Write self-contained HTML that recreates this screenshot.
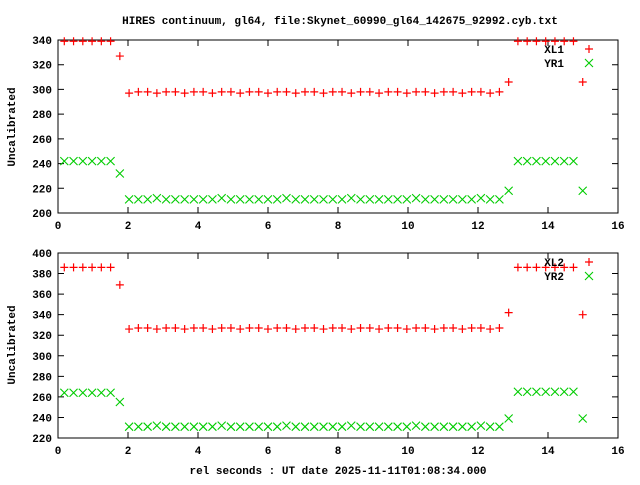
<!DOCTYPE html>
<html><head><style>
body{margin:0;background:#fff}
svg text{font-family:"Liberation Mono","DejaVu Sans Mono",monospace;font-weight:bold;font-size:11px}
</style></head><body>
<svg id="s" width="640" height="480" xmlns="http://www.w3.org/2000/svg">
<text x="340" y="24" text-anchor="middle">HIRES continuum, gl64, file:Skynet_60990_gl64_142675_92992.cyb.txt</text>
<text x="0" y="0" transform="translate(15,127) rotate(-90)" text-anchor="middle">Uncalibrated</text>
<text x="0" y="0" transform="translate(15,345) rotate(-90)" text-anchor="middle">Uncalibrated</text>
<text x="338" y="474" text-anchor="middle">rel seconds : UT date 2025-11-11T01:08:34.000</text>
</svg>
<script>
var s=document.getElementById('s'),NS='http://www.w3.org/2000/svg';
function el(t,a,txt){var e=document.createElementNS(NS,t);for(var k in a)e.setAttribute(k,a[k]);if(txt!==undefined)e.textContent=txt;s.appendChild(e);return e;}
function plus(x,y,c){el('path',{d:'M'+(x-4)+' '+y+'h8M'+x+' '+(y-4)+'v8',stroke:c,'stroke-width':1.2,fill:'none'});}
function cross(x,y,c){el('path',{d:'M'+(x-4)+' '+(y-4)+'l8 8M'+(x+4)+' '+(y-4)+'l-8 8',stroke:c,'stroke-width':1.1,fill:'none'});}
function panel(top,bot,vmin,vmax,step,R,G,lab1,lab2){
 var X0=58,X1=618;
 function px(x){return X0+x*35;}
 function py(v){return bot-(v-vmin)*(bot-top)/(vmax-vmin);}
 el('rect',{x:X0,y:top,width:X1-X0,height:bot-top,fill:'none',stroke:'#000','stroke-width':1});
 for(var v=vmin;v<=vmax;v+=step){var y=py(v);
  el('path',{d:'M'+X0+' '+y+'h6M'+X1+' '+y+'h-6',stroke:'#000'});
  el('text',{x:X0-6,y:y+4,'text-anchor':'end'},String(v));}
 for(var x=0;x<=16;x+=2){var p=px(x);
  el('path',{d:'M'+p+' '+bot+'v-6M'+p+' '+top+'v6',stroke:'#000'});
  el('text',{x:p,y:bot+16,'text-anchor':'middle'},String(x));}
 for(var i=0;i<=56;i++){var x=0.18+i*0.2645,r,g;
  if(i<6){r=R[0];g=G[0];}else if(i==6){r=R[1];g=G[1];}else if(i<48){r=R[2]+(i%3==1?-1:0);g=G[2]+(i%7==3?1:0);}
  else if(i==48){r=R[3];g=G[3];}else if(i<56){r=R[4];g=G[4];}else{r=R[5];g=G[5];}
  plus(px(x),py(r),'#f00');cross(px(x),py(g),'#0c0');}
 el('text',{x:564,y:top+13,'text-anchor':'end'},lab1);plus(589,top+9,'#f00');
 el('text',{x:564,y:top+27,'text-anchor':'end'},lab2);cross(589,top+23,'#0c0');
}
panel(40,213,200,340,20,[339,327,298,306,339,306],[242,232,211,218,242,218],'XL1','YR1');
panel(253,438,220,400,20,[386,369,327,342,386,340],[264,255,231,239,265,239],'XL2','YR2');
</script>
</body></html>
